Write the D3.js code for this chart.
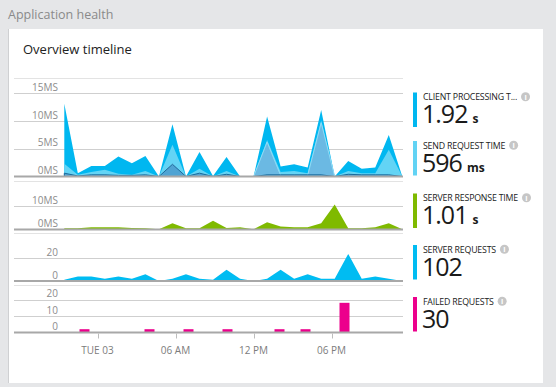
<!DOCTYPE html>
<html>
<head>
<meta charset="utf-8">
<script src="https://cdn.jsdelivr.net/npm/d3@7"></script>
<style>
  body { margin: 0; background: #e5e6e8; }
  svg { display: block; font-family: "Open Sans", "Noto Sans", sans-serif; }
</style>
</head>
<body>
<div id="chart"></div>
<script>
// page view timings (ms), one value per point
const pageTotal       = [13.1, 0.6, 1.9, 1.9, 3.6, 2.4, 3.7, 0.0, 9.4, 0.0, 4.4, 0.1, 3.5, 0.0, 0.0, 10.8, 1.8, 2.2, 1.6, 12.0, 0.0, 2.8, 1.4, 1.6, 7.5, 0.0];
const sendRequest     = [2.3, 0.3, 0.8, 1.2, 0.5, 0.3, 1.0, 0.0, 5.7, 0.0, 1.4, 0.0, 1.0, 0.0, 0.0, 6.6, 0.8, 1.0, 0.6, 10.1, 0.0, 1.0, 0.6, 0.6, 4.8, 0.0];
const receiveResponse = [0.0, 0.0, 0.0, 0.0, 0.0, 0.0, 0.0, 0.0, 2.2, 0.0, 0.0, 0.0, 0.0, 0.0, 0.0, 6.2, 0.2, 0.2, 0.2, 9.7, 0.0, 0.0, 0.0, 0.0, 0.0, 0.0];
const networkConnect  = [0.6, 0.1, 0.3, 0.3, 0.2, 0.2, 0.3, 0.0, 2.2, 0.0, 0.6, 0.0, 0.4, 0.0, 0.0, 0.3, 0.3, 0.3, 0.3, 0.3, 0.0, 0.4, 0.3, 0.3, 0.3, 0.0];

// server side
const serverResponse = [0.5, 0.5, 1.0, 1.0, 1.0, 0.6, 0.5, 0.1, 2.7, 0.5, 0.5, 3.7, 0.6, 1.0, 0.1, 3.1, 1.3, 1.0, 1.0, 2.7, 10.7, 0.5, 0.5, 1.0, 2.7, 0.1];
const serverRequests = [1, 4, 4, 2, 4, 2, 6, 0, 2, 6, 2, 1, 10, 2, 0, 2, 10, 2, 6, 2, 2, 24, 2, 4, 2, 0];

// failed requests: hour (relative to Tue 03 00:00) and count
const failedHours  = [-1, 4, 7, 10, 14, 16, 19];
const failedCounts = [2, 2, 2, 2, 2, 2, 18];

const tickHours  = [0, 6, 12, 18];
const tickLabels = ["TUE 03", "06 AM", "12 PM", "06 PM"];

const legendTitles = ["CLIENT PROCESSING T...", "SEND REQUEST TIME", "SERVER RESPONSE TIME", "SERVER REQUESTS", "FAILED REQUESTS"];
const legendValues = ["1.92", "596", "1.01", "102", "30"];
const legendUnits  = ["s", "ms", "s", "", ""];
const legendColors = ["#00b7f0", "#62d3f4", "#7fba00", "#00bcf2", "#ec008c"];

const width = 556, height = 387;
const x0 = 64.3, x1 = 402.3;
const gridLeft = 14, gridRight = 403;

const svg = d3.select("#chart").append("svg")
    .attr("width", width)
    .attr("height", height);

svg.append("rect").attr("width", width).attr("height", height).attr("fill", "#e5e6e8");

svg.append("text")
    .attr("x", 8).attr("y", 19)
    .attr("font-size", 12.5).attr("fill", "#8a8a8a")
    .text("Application health");

// white card
svg.append("rect")
    .attr("x", 8).attr("y", 29).attr("width", 535).attr("height", 354)
    .attr("fill", "#fff");
svg.append("line")
    .attr("x1", 8.5).attr("x2", 8.5).attr("y1", 29).attr("y2", 383)
    .attr("stroke", "#cfd0d2");

svg.append("text")
    .attr("x", 23).attr("y", 54)
    .attr("font-size", 13).attr("fill", "#222")
    .text("Overview timeline");

// x scales: data points by index, axis + bars by time
const xi = d3.scaleLinear().domain([0, pageTotal.length - 1]).range([x0, x1]);
const day = new Date(2015, 10, 3);
const hourDate = h => new Date(day.getTime() + h * 3600e3);
const xt = d3.scaleTime()
    .domain([hourDate((x0 - 97.5) / 13), hourDate((x1 - 97.5) / 13)])
    .range([x0, x1]);

// panels: top, bottom (zero line), top of domain, ticks
const panels = [
    {top: 78, bottom: 176.5, max: 17.75, ticks: [0, 5, 10, 15], fmt: d => d + "MS"},
    {top: 181, bottom: 229.5, max: 20.7, ticks: [0, 10], fmt: d => d + "MS"},
    {top: 233, bottom: 281, max: 42.5, ticks: [0, 20], fmt: d => d},
    {top: 285, bottom: 332.5, max: 28.8, ticks: [0, 10, 20], fmt: d => d}
];

panels.forEach(p => {
    p.y = d3.scaleLinear().domain([0, p.max]).range([p.bottom, p.top]);
    p.g = svg.append("g");
    p.g.append("line")
        .attr("x1", gridLeft).attr("x2", gridRight)
        .attr("y1", p.top + 0.5).attr("y2", p.top + 0.5)
        .attr("stroke", "#e3e3e3");
    p.g.selectAll(".grid")
        .data(p.ticks.filter(t => t > 0))
        .enter().append("line")
        .attr("class", "grid")
        .attr("x1", gridLeft).attr("x2", gridRight)
        .attr("y1", d => Math.round(p.y(d)) + 0.5)
        .attr("y2", d => Math.round(p.y(d)) + 0.5)
        .attr("stroke", "#cfcfcf");
    p.g.selectAll(".tick-label")
        .data(p.ticks)
        .enter().append("text")
        .attr("class", "tick-label")
        .attr("x", 58)
        .attr("y", d => p.y(d) - 2.5)
        .attr("text-anchor", "end")
        .attr("font-size", 10)
        .attr("fill", "#8c8c8c")
        .text(p.fmt);
    p.marks = svg.append("g");
});

function drawArea(p, values, fill, stroke) {
    const area = d3.area()
        .x((d, i) => xi(i))
        .y0(p.y(0))
        .y1(d => p.y(d));
    p.marks.append("path")
        .datum(values)
        .attr("d", area)
        .attr("fill", fill)
        .attr("stroke", stroke || "none")
        .attr("stroke-width", 1)
        .attr("stroke-linejoin", "round");
}

// stacked-looking page view chart: larger series painted first
drawArea(panels[0], pageTotal, "#00b7f0");
drawArea(panels[0], sendRequest, "#63d4f5");
drawArea(panels[0], receiveResponse, "#6bb9e3", "#8edbf6");
drawArea(panels[0], networkConnect, "#4fa3d3", "#1a6a9b");

drawArea(panels[1], serverResponse, "#7fba00");
drawArea(panels[2], serverRequests, "#00bcf2");

// failed requests as bars
panels[3].marks.selectAll(".bar")
    .data(failedHours)
    .enter().append("rect")
    .attr("class", "bar")
    .attr("x", d => xt(hourDate(d)) - 5)
    .attr("width", 10)
    .attr("y", (d, i) => panels[3].y(failedCounts[i]))
    .attr("height", (d, i) => panels[3].bottom - panels[3].y(failedCounts[i]))
    .attr("fill", "#ec008c");

// zero lines on top of the marks
panels.forEach(p => {
    svg.append("line")
        .attr("x1", gridLeft).attr("x2", gridRight)
        .attr("y1", p.bottom).attr("y2", p.bottom)
        .attr("stroke", "#a8a8a8")
        .attr("stroke-width", 2);
});

// time axis
const axisY = panels[3].bottom + 1;
const axis = svg.append("g");
axis.selectAll("line")
    .data(tickHours)
    .enter().append("line")
    .attr("x1", d => Math.round(xt(hourDate(d))) + 0.5)
    .attr("x2", d => Math.round(xt(hourDate(d))) + 0.5)
    .attr("y1", axisY).attr("y2", axisY + 5)
    .attr("stroke", "#bdbdbd");
axis.selectAll("text")
    .data(tickHours)
    .enter().append("text")
    .attr("x", d => xt(hourDate(d)))
    .attr("y", axisY + 20)
    .attr("text-anchor", "middle")
    .attr("font-size", 10)
    .attr("fill", "#7c7c7c")
    .text((d, i) => tickLabels[i]);

// legend on the right
const legendTops = [92.5, 141, 193.5, 245, 297];
const legend = svg.selectAll(".legend")
    .data(legendTitles)
    .enter().append("g")
    .attr("class", "legend")
    .attr("transform", (d, i) => "translate(413," + legendTops[i] + ")");

legend.append("rect")
    .attr("width", 4).attr("height", 34.5)
    .attr("fill", (d, i) => legendColors[i]);

legend.append("text")
    .attr("class", "ltitle")
    .attr("x", 10).attr("y", 7.6)
    .attr("font-size", 8.8)
    .attr("fill", "#222")
    .attr("letter-spacing", -0.2)
    .text(d => d);

legend.each(function () {
    const g = d3.select(this);
    const w = g.select(".ltitle").node().getComputedTextLength();
    const info = g.append("g").attr("transform", "translate(" + (10 + w + 8.5) + ",4.3)");
    info.append("circle").attr("r", 4.5).attr("fill", "#c6c6c6");
    info.append("text")
        .attr("y", 3).attr("text-anchor", "middle")
        .attr("font-size", 7.5).attr("font-weight", "bold")
        .attr("fill", "#fff").text("i");
});

const val = legend.append("text")
    .attr("x", 9).attr("y", 30.5)
    .attr("fill", "#1a1a1a");
val.append("tspan")
    .attr("font-size", 25)
    .attr("letter-spacing", -1)
    .text((d, i) => legendValues[i]);
val.append("tspan")
    .attr("dx", 5)
    .attr("font-size", 12)
    .attr("font-weight", "bold")
    .text((d, i) => legendUnits[i]);
</script>
</body>
</html>
